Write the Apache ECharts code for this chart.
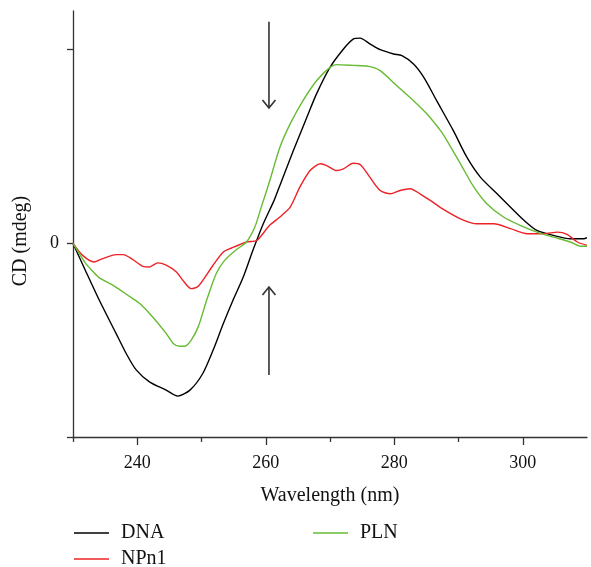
<!DOCTYPE html>
<html>
<head>
<meta charset="utf-8">
<script src="https://cdn.jsdelivr.net/npm/echarts@6/dist/echarts.min.js"></script>
<style>
html,body{margin:0;padding:0;background:#fff;}
#chart{width:591px;height:567px;}
</style>
</head>
<body>
<div id="chart"></div>
<script>
// Wavelength (nm) and CD values (arbitrary units, 0 = baseline)
const dnaX = [230,232,234.1,236.7,238.3,239.8,241.9,244.5,246.3,248.2,250.2,251.8,253.4,254.9,256.5,258.0,259.6,261.3,262.2,264.3,266.4,267.9,270.0,272.1,273.6,274.7,276.2,277.8,279.9,281.2,283.0,284.6,286.6,289.2,291.3,293.4,296.0,298.1,300.2,302.2,304.8,307.4,309.5,310];
const dnaY = [0,-0.145,-0.294,-0.465,-0.57,-0.652,-0.715,-0.758,-0.789,-0.758,-0.672,-0.552,-0.414,-0.294,-0.174,-0.036,0.10,0.222,0.299,0.479,0.651,0.772,0.909,1.004,1.055,1.06,1.03,1.0,0.978,0.969,0.926,0.857,0.737,0.582,0.445,0.342,0.256,0.187,0.119,0.067,0.041,0.024,0.024,0.03];

const plnX = [230,232.0,233.1,234.1,236.2,237.2,239.3,240.4,242.4,244.5,245.6,246.6,247.4,248.4,249.5,250.8,252.3,253.6,255.4,257.0,258.3,259.3,260.5,262.2,263.8,265.8,267.9,270.0,271.0,273.6,276.0,277.8,280.4,283.0,285.1,287.2,288.2,290.3,292.4,294.4,297.0,299.6,302.2,304.8,307.4,309.0,310];
const plnY = [0,-0.105,-0.145,-0.178,-0.216,-0.238,-0.285,-0.311,-0.38,-0.465,-0.517,-0.531,-0.531,-0.50,-0.43,-0.294,-0.156,-0.088,-0.033,0.007,0.084,0.187,0.31,0.496,0.617,0.737,0.84,0.909,0.923,0.919,0.914,0.892,0.814,0.737,0.668,0.582,0.531,0.411,0.29,0.205,0.136,0.093,0.058,0.032,0.007,-0.015,-0.015];

const npnX = [230,231.5,233.3,234.6,236.7,237.8,239.1,240.9,241.9,243.2,244.5,246.1,247.1,248.4,249.5,251.8,253.4,254.7,257.0,258.6,260.6,262.2,263.8,265.3,266.9,268.5,269.5,271.0,272.1,273.6,274.7,276.2,277.8,279.4,280.9,282.5,284.0,285.6,287.2,290.3,292.9,295.5,298.1,300.7,303.3,305.4,306.9,308.5,310.0];
const npnY = [0,-0.062,-0.096,-0.079,-0.058,-0.058,-0.079,-0.119,-0.122,-0.101,-0.113,-0.148,-0.191,-0.234,-0.222,-0.113,-0.045,-0.024,0.007,0.015,0.093,0.136,0.187,0.29,0.376,0.411,0.402,0.376,0.385,0.414,0.407,0.342,0.273,0.256,0.273,0.282,0.256,0.222,0.185,0.127,0.101,0.101,0.076,0.05,0.05,0.058,0.046,0.007,-0.01];

const xLabelTicks = [240,260,280,300];
const xMinorTicks = [230,250,270,290];
const yTicks = [-1,0,1];
const yLabels = [0];
// arrows: [wavelength, tail value, head value]
const arrows = [[260.5,1.144,0.699],[260.5,-0.68,-0.225]];

const pair = (xs, ys) => xs.map((x, i) => [x, ys[i]]);
const FONT = '"Liberation Serif","DejaVu Serif",serif';
const AX = '#333';

const legendItem = (name, left, top) => ({
  data:[name], orient:'vertical', left:left, top:top, padding:0,
  icon:'rect', itemWidth:35, itemHeight:1.5,
  textStyle:{fontFamily:FONT, fontSize:20, color:'#111', padding:[0,0,0,7]}
});

const chart = echarts.init(document.getElementById('chart'), null, {renderer:'canvas'});
chart.setOption({
  animation:false,
  backgroundColor:'#fff',
  grid:{left:73, right:4, top:11, bottom:130},
  xAxis:[{
    type:'value', min:230, max:310, interval:10, position:'bottom',
    name:'Wavelength (nm)', nameLocation:'middle', nameGap:49,
    nameTextStyle:{fontFamily:FONT, fontSize:20, color:'#111'},
    axisLine:{show:true, onZero:false, lineStyle:{color:AX, width:1.3}},
    axisTick:{show:true, length:8, customValues:xLabelTicks, lineStyle:{color:AX, width:1.3}},
    axisLabel:{customValues:xLabelTicks, fontFamily:FONT, fontSize:18, color:'#111', margin:17},
    splitLine:{show:false}
  },{
    type:'value', min:230, max:310, interval:10, position:'bottom', offset:0,
    axisLine:{show:false, onZero:false},
    axisTick:{show:true, length:5, customValues:xMinorTicks, lineStyle:{color:AX, width:1.3}},
    axisLabel:{show:false},
    splitLine:{show:false}
  }],
  yAxis:{
    type:'value', min:-1, max:1.2, interval:1,
    name:'CD (mdeg)', nameLocation:'middle', nameGap:42, nameRotate:90,
    nameTextStyle:{fontFamily:FONT, fontSize:20, color:'#111', padding:[0,34,0,0]},
    axisLine:{show:true, onZero:false, lineStyle:{color:AX, width:1.3}},
    axisTick:{show:true, length:6, customValues:yTicks, lineStyle:{color:AX, width:1.3}},
    axisLabel:{customValues:yLabels, fontFamily:FONT, fontSize:18, color:'#111', margin:14},
    splitLine:{show:false}
  },
  legend:[legendItem('DNA',74,523), legendItem('NPn1',74,549), legendItem('PLN',313,523)],
  series:[
    {name:'DNA', type:'line', data:pair(dnaX,dnaY), smooth:0.25, symbol:'none',
     lineStyle:{color:'#000', width:1.4}, itemStyle:{color:'#000'}},
    {name:'NPn1', type:'line', data:pair(npnX,npnY), smooth:0.25, symbol:'none',
     lineStyle:{color:'#ec2227', width:1.4}, itemStyle:{color:'#ec2227'}},
    {name:'PLN', type:'line', data:pair(plnX,plnY), smooth:0.25, symbol:'none',
     lineStyle:{color:'#66bb33', width:1.4}, itemStyle:{color:'#66bb33'}}
  ]
});

// arrows positioned through the chart's own scales
const g = [];
arrows.forEach(a => {
  const t = chart.convertToPixel({gridIndex:0}, [a[0], a[1]]);
  const h = chart.convertToPixel({gridIndex:0}, [a[0], a[2]]);
  const dir = h[1] > t[1] ? 1 : -1;
  g.push({type:'line', shape:{x1:t[0], y1:t[1], x2:h[0], y2:h[1]}, style:{stroke:AX, lineWidth:1.6}});
  g.push({type:'polyline', shape:{points:[[h[0]-6.5, h[1]-dir*8],[h[0], h[1]],[h[0]+6.5, h[1]-dir*8]]},
          style:{stroke:AX, lineWidth:1.6, fill:null}});
});
chart.setOption({graphic:g});
</script>
</body>
</html>
